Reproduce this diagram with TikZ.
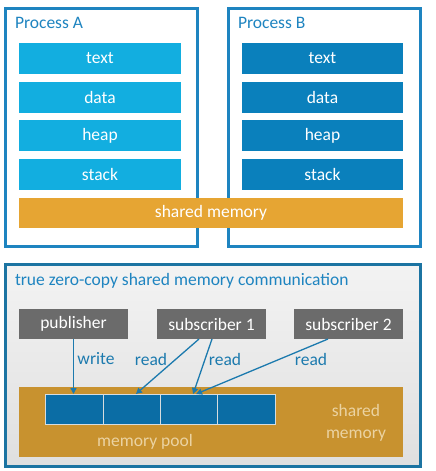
\documentclass[tikz,border=0pt]{standalone}
\usepackage{fontspec}
\setmainfont{Carlito}
\usetikzlibrary{arrows.meta,calc}
\definecolor{frameblue}{HTML}{1E84C0}
\definecolor{lightbar}{HTML}{12AEE0}
\definecolor{darkbar}{HTML}{0A80BC}
\definecolor{orangeA}{HTML}{E6A533}
\definecolor{panelbg}{HTML}{EBEBEB}
\definecolor{panelframe}{HTML}{1C74A2}
\definecolor{grayboxc}{HTML}{6B6B6B}
\definecolor{orangeB}{HTML}{C8922F}
\definecolor{cellblue}{HTML}{0B6DA5}
\definecolor{cellline}{HTML}{D6DCDE}
\definecolor{arrowblue}{HTML}{1C7AAE}
\definecolor{creamtext}{HTML}{EBD3A2}
\tikzset{
  every node/.style={font=\fontsize{17.5}{22}\selectfont, inner sep=0pt, outer sep=0pt},
  procframe/.style={draw=frameblue, line width=3pt, fill=white, minimum width=192pt, minimum height=238pt},
  titletext/.style={text=frameblue, anchor=base west},
  barA/.style={fill=lightbar, text=white, minimum width=162pt, minimum height=31pt},
  barB/.style={fill=darkbar, text=white, minimum width=161pt, minimum height=31pt},
  sharedbar/.style={fill=orangeA, text=white, minimum width=384pt, minimum height=30pt},
  panel/.style={draw=panelframe, line width=3pt, top color=panelbg!60!white, bottom color=panelbg!95!black, minimum width=415pt, minimum height=202pt},
  graybox/.style={fill=grayboxc, text=white, minimum width=109pt, minimum height=30pt},
  pool/.style={fill=orangeB, minimum width=384pt, minimum height=70pt},
  cellbox/.style={fill=cellblue, draw=cellline, line width=1pt, minimum width=57.25pt, minimum height=30pt},
  conn/.style={draw=arrowblue, line width=1.3pt, -{Triangle[length=6pt,width=6pt]}},
  connlabel/.style={text=arrowblue},
  pooltext/.style={text=creamtext}
}
\begin{document}
\begin{tikzpicture}[x=1pt,y=-1pt]
\useasboundingbox[fill=white] (0,0) rectangle (436,471);
% Process A
\node[procframe] (pa) at (101.5,127.5) {};
\node[titletext] (pat) at (15,28.5) {Process A};
\node[barA] (atext) at (100,58.5) {text};
\node[barA] (adata) at (100,97) {data};
\node[barA] (aheap) at (100,135.5) {heap};
\node[barA] (astack) at (100,174) {stack};
% Process B
\node[procframe] (pb) at (324.5,127.5) {};
\node[titletext] (pbt) at (238,28.5) {Process B};
\node[barB] (btext) at (322.5,58.5) {text};
\node[barB] (bdata) at (322.5,97) {data};
\node[barB] (bheap) at (322.5,135.5) {heap};
\node[barB] (bstack) at (322.5,174) {stack};
% shared memory
\node[sharedbar] (sm) at (211,213) {shared memory};
% bottom panel
\node[panel] (pn) at (213,365.5) {};
\node[titletext] (pnt) at (15,285.5) {true zero-copy shared memory communication};
\node[graybox] (pub) at (73.5,324) {publisher};
\node[graybox] (sub1) at (211.5,324) {subscriber 1};
\node[graybox] (sub2) at (348.5,324) {subscriber 2};
\node[pool] (pl) at (211,422) {};
\node[cellbox] (c1) at (74.6,409) {};
\node[cellbox] (c2) at (131.9,409) {};
\node[cellbox] (c3) at (189.1,409) {};
\node[cellbox] (c4) at (246.4,409) {};
\node[pooltext] (mp) at (145,442) {memory pool};
\node[pooltext, align=center] (smt) at (356,423) {shared\\memory};
% connectors
\draw[conn] (pub.south) -- (pub.south |- c1.north);
\draw[conn] ([xshift=-12.5pt]sub1.south) -- ([xshift=4pt]c2.north);
\draw[conn] ([xshift=0.5pt]sub1.south) -- ([xshift=4pt]c3.north);
\draw[conn] ([xshift=-20.5pt]sub2.south) -- ([xshift=7pt]c3.north);
\node[connlabel] (lw) at (96,359) {write};
\node[connlabel] (lr1) at (151,359) {read};
\node[connlabel] (lr2) at (225,359) {read};
\node[connlabel] (lr3) at (311,359) {read};
\end{tikzpicture}
\end{document}
